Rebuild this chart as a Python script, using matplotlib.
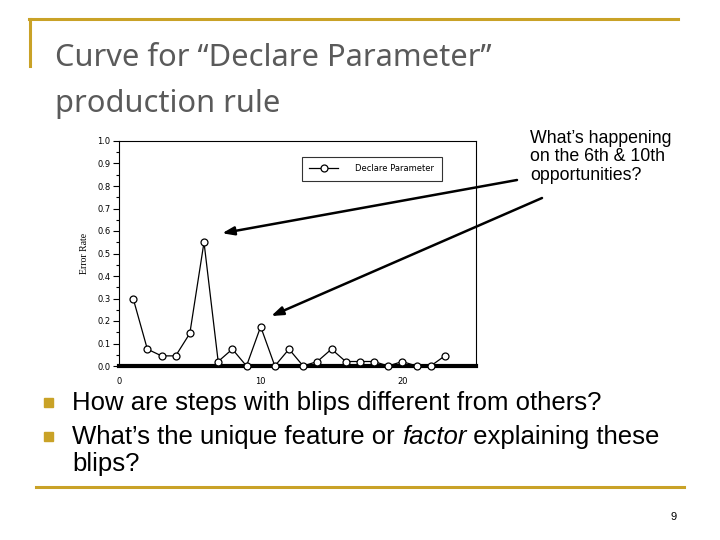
import matplotlib.pyplot as plt
from matplotlib.ticker import MultipleLocator

# error rate per opportunity
opportunity = list(range(1, 24))
error_rate = [0.30, 0.075, 0.045, 0.045, 0.145, 0.55, 0.02, 0.075, 0.0, 0.175,
              0.0, 0.075, 0.0, 0.02, 0.075, 0.02, 0.02, 0.02, 0.0, 0.02,
              0.0, 0.0, 0.045]
y_ticks = [0.0, 0.1, 0.2, 0.3, 0.4, 0.5, 0.6, 0.7, 0.8, 0.9, 1.0]
x_ticks = [0, 10, 20]

title_lines = ["Curve for \u201cDeclare Parameter\u201d", "production rule"]
question = "What\u2019s happening\non the 6th & 10th\nopportunities?"
gold = '#C9A227'

fig = plt.figure(figsize=(7.2, 5.4), dpi=100)
W, H = 720, 540

def fx(px):
    return px / W

def fy(py):
    return 1 - py / H

# slide frame
fig.add_artist(plt.Line2D([fx(29), fx(678)], [fy(19), fy(19)], color=gold, lw=2.2))
fig.add_artist(plt.Line2D([fx(30), fx(30)], [fy(19), fy(66)], color=gold, lw=2.2))
fig.add_artist(plt.Line2D([fx(36), fx(684)], [fy(487), fy(487)], color=gold, lw=2.2))

fig.text(fx(55), fy(66), title_lines[0], fontsize=22.2, family='Noto Sans', color='#5a5a5a', va='baseline')
fig.text(fx(55), fy(112), title_lines[1], fontsize=22.2, family='Noto Sans', color='#5a5a5a', va='baseline')

# chart
ax = fig.add_axes([fx(119), fy(366), fx(476) - fx(119), fy(141) - fy(366)])
ax.plot(opportunity, error_rate, color='black', lw=0.9, marker='o', markersize=5,
        markerfacecolor='white', markeredgecolor='black', markeredgewidth=0.9,
        label='Declare Parameter', clip_on=False, zorder=3)
ax.set_xlim(0, 25.2)
ax.set_ylim(0, 1.0)
ax.set_yticks(y_ticks)
ax.set_yticklabels(['%.1f' % v for v in y_ticks])
ax.yaxis.set_minor_locator(MultipleLocator(0.05))
ax.set_xticks(x_ticks)
ax.tick_params(axis='y', which='major', direction='out', length=4, width=0.8, labelsize=6, pad=2)
ax.tick_params(axis='y', which='minor', direction='out', length=2, width=0.8)
ax.tick_params(axis='x', length=0, labelsize=6, pad=8)
for s in ['top', 'right', 'left']:
    ax.spines[s].set_linewidth(0.8)
ax.spines['bottom'].set_linewidth(3)
ax.set_ylabel('Error Rate', family='Liberation Serif', fontsize=7, labelpad=6)

leg = ax.legend(loc='upper left', bbox_to_anchor=(0.512, 0.93), fontsize=6, frameon=True,
                fancybox=False, edgecolor='black', borderpad=0.9, handlelength=3.5,
                handletextpad=2.0, borderaxespad=0)
leg.get_frame().set_linewidth(0.8)

# arrows pointing at the blips
arrow = dict(arrowstyle='-|>,head_length=0.7,head_width=0.25', lw=1.8, color='black',
             shrinkA=0, shrinkB=0)
ax.annotate('', xy=(7.28, 0.59), xytext=(517, H - 180), textcoords='figure pixels',
            arrowprops=arrow, annotation_clip=False)
ax.annotate('', xy=(10.74, 0.222), xytext=(542, H - 198), textcoords='figure pixels',
            arrowprops=arrow, annotation_clip=False)

fig.text(fx(530), fy(130), question, fontsize=12.8, family='Liberation Sans', va='top',
         linespacing=1.1)

# bullets
for by in [402, 436]:
    fig.add_artist(plt.Rectangle((fx(44), fy(by + 5)), fx(9), 9 / H, color=gold,
                                 transform=fig.transFigure))

fs = 18.5
fig.text(fx(72), fy(410), 'How are steps with blips different from others?', fontsize=fs,
         family='Liberation Sans', va='baseline')
t = fig.text(fx(72), fy(444), 'What\u2019s the unique feature or ', fontsize=fs,
             family='Liberation Sans', va='baseline')
fig.canvas.draw()
t2 = fig.text(t.get_window_extent().x1 / W, fy(444), 'factor', fontsize=fs,
              family='Liberation Sans', style='italic', va='baseline')
fig.text(t2.get_window_extent().x1 / W, fy(444), ' explaining these', fontsize=fs,
         family='Liberation Sans', va='baseline')
fig.text(fx(72), fy(471), 'blips?', fontsize=fs, family='Liberation Sans', va='baseline')

fig.text(fx(677), fy(520), '9', fontsize=8, family='Liberation Sans', ha='right')

fig.savefig('out.png', dpi=100)
